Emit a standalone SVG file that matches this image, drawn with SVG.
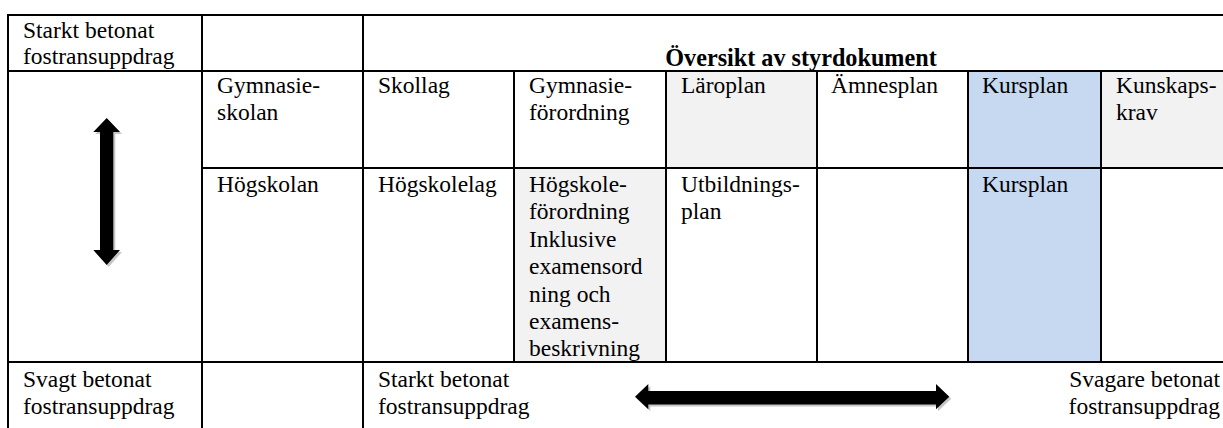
<svg xmlns="http://www.w3.org/2000/svg" width="1223" height="428" viewBox="0 0 1223 428" font-family="'Liberation Serif', 'Times New Roman', Times, 'DejaVu Serif', serif">
<style>
text{font-family:'Liberation Serif','Times New Roman',Times,'DejaVu Serif',serif;font-size:23.5px;fill:#000}
.b{font-weight:bold;font-size:24.2px}
.ln{stroke:#000;stroke-width:2;fill:none}
.gray{fill:#f2f2f2}
.blue{fill:#c6d9f1}
.arrow{fill:#000}
.shadow{fill:#a0a0a0;opacity:0.6}
</style>
<rect width="1223" height="428" fill="#fff"/>
<g id="fills">
<rect class="gray" x="666" y="71" width="151" height="97"/>
<rect class="blue" x="968" y="71" width="133" height="291"/>
<rect class="gray" x="1101" y="71" width="122" height="97"/>
<rect class="gray" x="514" y="168" width="152" height="194"/>
</g>
<g id="grid" class="ln">
<line x1="8" y1="15" x2="1223" y2="15"/>
<line x1="8" y1="71" x2="1223" y2="71"/>
<line x1="202" y1="168" x2="1223" y2="168"/>
<line x1="8" y1="362" x2="1223" y2="362"/>
<line x1="8" y1="14" x2="8" y2="428"/>
<line x1="202" y1="14" x2="202" y2="428"/>
<line x1="363" y1="14" x2="363" y2="428"/>
<line x1="514" y1="71" x2="514" y2="362"/>
<line x1="666" y1="71" x2="666" y2="362"/>
<line x1="817" y1="71" x2="817" y2="362"/>
<line x1="968" y1="71" x2="968" y2="362"/>
<line x1="1101" y1="71" x2="1101" y2="362"/>
</g>
<g id="n-strong-top"><text x="23" y="37.5">Starkt betonat</text><text x="23" y="64">fostransuppdrag</text></g>
<g id="n-title"><text class="b" x="801" y="66" text-anchor="middle">Översikt av styrdokument</text></g>
<g id="n-gymnasieskolan"><text x="217" y="93">Gymnasie-</text><text x="217" y="119.5">skolan</text></g>
<g id="n-skollag"><text x="378" y="93">Skollag</text></g>
<g id="n-gymnasieforordning"><text x="529" y="93">Gymnasie-</text><text x="529" y="119.5">förordning</text></g>
<g id="n-laroplan"><text x="681" y="93">Läroplan</text></g>
<g id="n-amnesplan"><text x="831" y="93">Ämnesplan</text></g>
<g id="n-kursplan1"><text x="982" y="93">Kursplan</text></g>
<g id="n-kunskapskrav"><text x="1116" y="93">Kunskaps-</text><text x="1116" y="119.5">krav</text></g>
<g id="n-hogskolan"><text x="217" y="192">Högskolan</text></g>
<g id="n-hogskolelag"><text x="378" y="192">Högskolelag</text></g>
<g id="n-hogskoleforordning">
<text x="529" y="192">Högskole-</text>
<text x="529" y="219.4">förordning</text>
<text x="529" y="246.8">Inklusive</text>
<text x="529" y="274.2">examensord</text>
<text x="529" y="301.6">ning och</text>
<text x="529" y="329">examens-</text>
<text x="529" y="356.4">beskrivning</text>
</g>
<g id="n-utbildningsplan"><text x="681" y="192">Utbildnings-</text><text x="681" y="219.4">plan</text></g>
<g id="n-kursplan2"><text x="982" y="192">Kursplan</text></g>
<g id="n-weak-bottom"><text x="23" y="387">Svagt betonat</text><text x="23" y="413.5">fostransuppdrag</text></g>
<g id="n-strong-bottom"><text x="378" y="387">Starkt betonat</text><text x="378" y="413.5">fostransuppdrag</text></g>
<g id="n-weaker"><text x="1220" y="387" text-anchor="end">Svagare betonat</text><text x="1220" y="413.5" text-anchor="end">fostransuppdrag</text></g>
<g id="connectors">
<polygon class="shadow" transform="translate(2,2)" points="106.7,118 120,132 113.3,132 113.3,250 120,250 106.7,265 93.3,250 100,250 100,132 93.3,132"/>
<polygon class="arrow" points="106.7,118 120,132 113.3,132 113.3,250 120,250 106.7,265 93.3,250 100,250 100,132 93.3,132"/>
<polygon class="shadow" transform="translate(2,2)" points="635,396.7 648.3,384 648.3,391 936,391 936,384 949.3,396.7 936,409.3 936,404.5 648.3,404.5 648.3,409.3"/>
<polygon class="arrow" points="635,396.7 648.3,384 648.3,391 936,391 936,384 949.3,396.7 936,409.3 936,404.5 648.3,404.5 648.3,409.3"/>
</g>
</svg>
